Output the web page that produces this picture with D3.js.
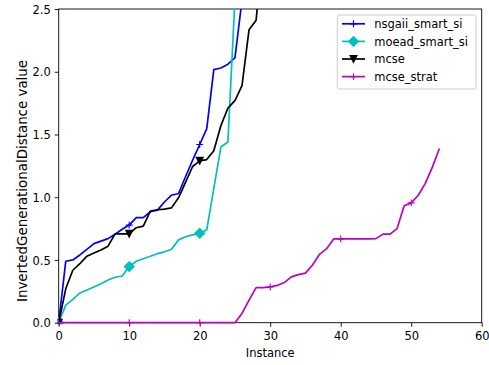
<!DOCTYPE html>
<html>
<head>
<meta charset="utf-8">
<script src="https://cdn.jsdelivr.net/npm/d3@7"></script>
<style>
  html, body { margin: 0; padding: 0; background: #fff; }
  svg { display: block; }
  text { font-family: "DejaVu Sans", sans-serif; fill: #000; }
</style>
</head>
<body>
<svg id="chart" width="489" height="365"></svg>
<script>
// IGD per instance for each algorithm (index = instance number)
const nsgaiiSmartSi = [0, 0.49, 0.50, 0.54, 0.585, 0.63, 0.65, 0.67, 0.705, 0.745,
  0.778, 0.838, 0.838, 0.884, 0.897, 0.962, 1.016, 1.03, 1.165, 1.295,
  1.42, 1.547, 2.017, 2.03, 2.06, 2.11, 2.57];
const moeadSmartSi = [0, 0.14, 0.186, 0.237, 0.26, 0.285, 0.31, 0.34, 0.362, 0.372,
  0.447, 0.49, 0.51, 0.53, 0.55, 0.565, 0.585, 0.66, 0.685, 0.70,
  0.713, 0.74, 1.07, 1.40, 1.44, 2.58];
const mcse = [0, 0.27, 0.418, 0.47, 0.53, 0.555, 0.58, 0.61, 0.708, 0.708,
  0.708, 0.757, 0.77, 0.89, 0.90, 0.905, 0.915, 0.995, 1.12, 1.245,
  1.29, 1.30, 1.37, 1.57, 1.71, 1.77, 1.89, 2.335, 2.41, 3.0];
const mcseStrat = [0, 0, 0, 0, 0, 0, 0, 0, 0, 0,
  0, 0, 0, 0, 0, 0, 0, 0, 0, 0,
  0, 0, 0, 0, 0, 0, 0.074, 0.18, 0.28, 0.28,
  0.285, 0.297, 0.32, 0.365, 0.383, 0.395, 0.46, 0.545, 0.59, 0.668,
  0.668, 0.668, 0.668, 0.668, 0.668, 0.67, 0.706, 0.706, 0.75, 0.932,
  0.955, 1.016, 1.11, 1.24, 1.388];

const seriesNames = ["nsgaii_smart_si", "moead_smart_si", "mcse", "mcse_strat"];
const seriesColors = ["#0000ff", "#00bfbf", "#000000", "#bf00bf"];
const seriesMarkers = ["plus", "diamond", "triangleDown", "plus"];
const seriesValues = [nsgaiiSmartSi, moeadSmartSi, mcse, mcseStrat];

const xTicks = [0, 10, 20, 30, 40, 50, 60];
const yTicks = [0, 0.5, 1.0, 1.5, 2.0, 2.5];
const markEvery = 10;

const svg = d3.select("#chart");
const margin = { left: 58.7, right: 481.7, top: 9, bottom: 322.7 };
const fontSize = 11.5;

const x = d3.scaleLinear().domain([0, 60]).range([margin.left, margin.right]);
const y = d3.scaleLinear().domain([0, 2.5]).range([margin.bottom, margin.top]);

svg.append("defs").append("clipPath").attr("id", "plotClip")
  .append("rect")
  .attr("x", margin.left - 1)
  .attr("y", margin.top)
  .attr("width", margin.right - margin.left + 2)
  .attr("height", margin.bottom - margin.top + 1.5);

// axes
const xAxis = d3.axisBottom(x).tickValues(xTicks).tickFormat(d3.format("d"))
  .tickSize(4).tickPadding(4);
const yAxis = d3.axisLeft(y).tickValues(yTicks).tickFormat(d3.format(".1f"))
  .tickSize(4).tickPadding(4);

const gx = svg.append("g").attr("transform", `translate(0,${margin.bottom})`).call(xAxis);
const gy = svg.append("g").attr("transform", `translate(${margin.left},0)`).call(yAxis);
[gx, gy].forEach(g => {
  g.select(".domain").remove();
  g.selectAll(".tick line").attr("stroke", "#000").attr("stroke-width", 0.9);
  g.selectAll(".tick text").attr("font-size", fontSize)
    .attr("font-family", "DejaVu Sans").attr("fill", "#000");
});
gx.selectAll(".tick text").attr("dy", null).attr("y", 17);
gy.selectAll(".tick text").attr("dy", "0.36em");

// frame
svg.append("rect")
  .attr("x", margin.left).attr("y", margin.top)
  .attr("width", margin.right - margin.left)
  .attr("height", margin.bottom - margin.top)
  .attr("fill", "none").attr("stroke", "#000").attr("stroke-width", 0.9);

// axis titles
svg.append("text")
  .attr("x", (margin.left + margin.right) / 2).attr("y", 357)
  .attr("text-anchor", "middle").attr("font-size", fontSize)
  .text("Instance");
svg.append("text")
  .attr("transform", "translate(26.5,181) rotate(-90)")
  .attr("text-anchor", "middle").attr("font-size", 13.4)
  .text("InvertedGenerationalDistance value");

// marker shapes
const ms = 6.9;
function markerPath(kind) {
  const h = ms / 2;
  if (kind === "plus") return `M${-h},0H${h}M0,${-h}V${h}`;
  if (kind === "diamond") {
    const d = ms / Math.SQRT2;
    return `M0,${-d}L${d},0L0,${d}L${-d},0Z`;
  }
  if (kind === "triangleDown") return `M0,${h}L${-h},${-h}L${h},${-h}Z`;
  return "";
}

const plot = svg.append("g").attr("clip-path", "url(#plotClip)");
const line = d3.line().x((d, i) => x(i)).y(d => y(d));

seriesValues.forEach((vals, s) => {
  const color = seriesColors[s];
  plot.append("path")
    .datum(vals)
    .attr("d", line)
    .attr("fill", "none")
    .attr("stroke", color)
    .attr("stroke-width", 1.7)
    .attr("stroke-linejoin", "round");
  const pts = vals.map((v, i) => ({ i, v })).filter(p => p.i % markEvery === 0);
  plot.selectAll(null).data(pts).enter().append("path")
    .attr("transform", p => `translate(${x(p.i)},${y(p.v)})`)
    .attr("d", markerPath(seriesMarkers[s]))
    .attr("fill", color)
    .attr("stroke", color)
    .attr("stroke-width", 1.15);
});

// legend
const lg = svg.append("g");
lg.append("rect")
  .attr("x", 337.3).attr("y", 15)
  .attr("width", 476 - 337.3).attr("height", 89 - 15)
  .attr("rx", 2.5).attr("ry", 2.5)
  .attr("fill", "#fff").attr("fill-opacity", 0.8)
  .attr("stroke", "#cccccc").attr("stroke-width", 1);
seriesNames.forEach((name, s) => {
  const cy = 23.8 + s * 17.6;
  const color = seriesColors[s];
  lg.append("line")
    .attr("x1", 342).attr("x2", 365).attr("y1", cy).attr("y2", cy)
    .attr("stroke", color).attr("stroke-width", 1.7);
  lg.append("path")
    .attr("transform", `translate(353.5,${cy})`)
    .attr("d", markerPath(seriesMarkers[s]))
    .attr("fill", color).attr("stroke", color).attr("stroke-width", 1.15);
  lg.append("text")
    .attr("x", 374.2).attr("y", cy).attr("dy", "0.36em")
    .attr("font-size", fontSize)
    .text(name);
});
</script>
</body>
</html>
